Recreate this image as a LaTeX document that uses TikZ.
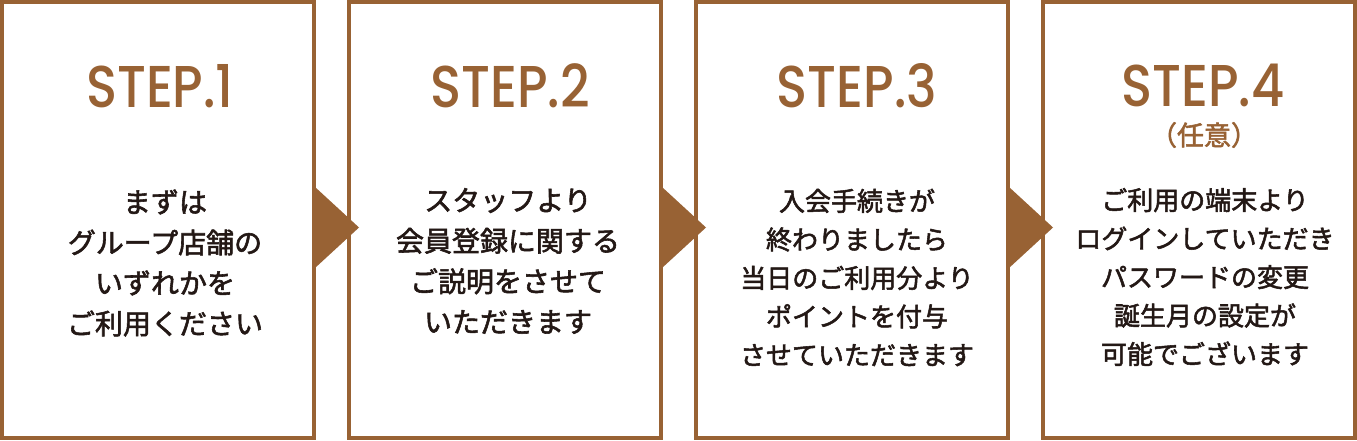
\documentclass[tikz,border=0pt]{standalone}
\usepackage{fontspec}
\newfontfamily\jpfont{Noto Sans CJK JP}[FakeBold=2]
\newfontfamily\stepfont{Poppins Medium}
\definecolor{brn}{HTML}{986234}
\definecolor{inkc}{HTML}{231815}
\begin{document}
\begin{tikzpicture}[x=1pt,y=1pt,
  stepbox/.style={draw=brn, line width=4pt, minimum width=312pt, minimum height=436pt, inner sep=0pt, fill=white},
  steptitle/.style={text=brn, font=\stepfont\fontsize{59}{59}\selectfont, anchor=base, inner sep=0pt, text depth=0pt},
  optlabel/.style={text=brn, font=\jpfont\fontsize{27}{27}\selectfont, inner sep=0pt},
  desc/.style={text=inkc, align=center, inner sep=0pt},
  descA/.style={desc, font=\jpfont\fontsize{28}{40.5}\selectfont},
  descB/.style={desc, font=\jpfont\fontsize{26}{38.5}\selectfont},
  flow/.style={fill=brn}]
\useasboundingbox (0,0) rectangle (1357,440);
\node[stepbox] (b1) at (158,220) {};
\node[stepbox] (b2) at (505,220) {};
\node[stepbox] (b3) at (852,220) {};
\node[stepbox] (b4) at (1199,220) {};
\foreach \i in {1,2,3}{
  \fill[flow] ([shift={(-1,33)}]b\i.east) -- ([shift={(43,-7.5)}]b\i.east) -- ([shift={(-1,-48)}]b\i.east) -- cycle;
}
\node[steptitle] (t1) at (160,332) {\scalebox{0.87}[1]{STEP.1}};
\node[steptitle] (t2) at (510,332) {\scalebox{0.87}[1]{STEP.2}};
\node[steptitle] (t3) at (857,332) {\scalebox{0.87}[1]{STEP.3}};
\node[steptitle] (t4) at (1203,333) {\scalebox{0.87}[1]{STEP.4}};
\node[optlabel] (o4) at (1204,305) {（任意）};
\node[descA] (d1) at (165,177) {まずは\\グループ店舗の\\いずれかを\\ご利用ください};
\node[descA] (d2) at (508,179) {スタッフより\\会員登録に関する\\ご説明をさせて\\いただきます};
\node[descB] (d3) at (857,162.5) {入会手続きが\\終わりましたら\\当日のご利用分より\\ポイントを付与\\させていただきます};
\node[descB] (d4) at (1205,163) {ご利用の端末より\\ログインしていただき\\パスワードの変更\\誕生月の設定が\\可能でございます};
\end{tikzpicture}
\end{document}
